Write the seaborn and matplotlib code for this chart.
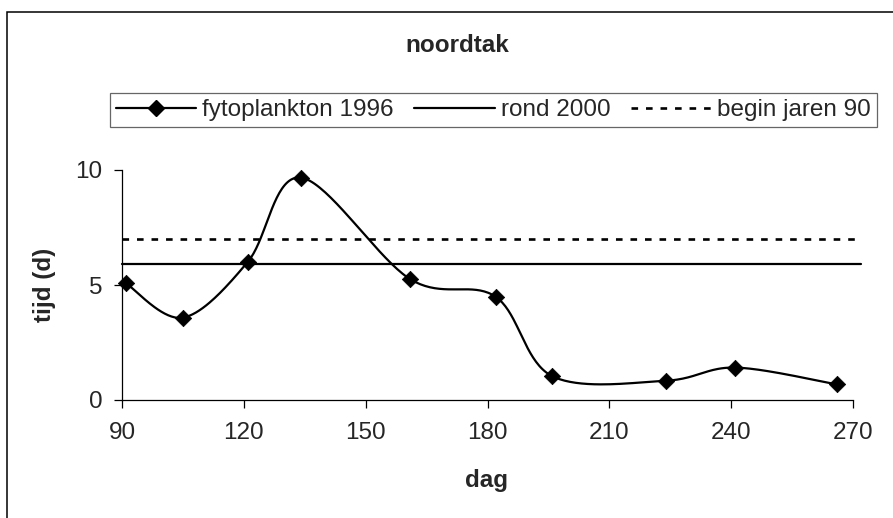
import numpy as np
import pandas as pd
import matplotlib
matplotlib.use("Agg")
import matplotlib.pyplot as plt
from matplotlib.lines import Line2D
from matplotlib.patches import Rectangle
import seaborn as sns

# ---- data ----
dag = [91, 105, 121, 134, 161, 182, 196, 224, 241, 266]
tijd = [5.07, 3.58, 6.01, 9.67, 5.25, 4.49, 1.03, 0.84, 1.41, 0.68]
ref_span = [90, 272]
rond_2000 = [5.91, 5.91]
begin_jaren_90 = [7.0, 7.0]
x_ticks = [90, 120, 150, 180, 210, 240, 270]
y_ticks = [0, 5, 10]
labels = ["fytoplankton 1996", "rond 2000", "begin jaren 90"]


def smooth(xs, ys, n=40):
    """Excel-like smoothed line (Catmull-Rom Bezier through the points)."""
    p = np.column_stack([xs, ys]).astype(float)
    ext = np.vstack([p[0], p, p[-1]])
    out = []
    t = np.linspace(0, 1, n)[:, None]
    for i in range(1, len(ext) - 2):
        p0, p1, p2, p3 = ext[i - 1], ext[i], ext[i + 1], ext[i + 2]
        b1 = p1 + (p2 - p0) / 6.0
        b2 = p2 - (p3 - p1) / 6.0
        seg = ((1 - t) ** 3) * p1 + 3 * ((1 - t) ** 2) * t * b1 + 3 * (1 - t) * t ** 2 * b2 + t ** 3 * p2
        out.append(seg if i == 1 else seg[1:])
    out = np.vstack(out)
    return out[:, 0], out[:, 1]


sns.set_style("white")
plt.rcParams["font.family"] = ["Liberation Sans", "DejaVu Sans"]
FS = 17.5

fig = plt.figure(figsize=(8.93, 5.18), dpi=100)
ax = fig.add_axes([122 / 893, 1 - 400 / 518, 731 / 893, 230 / 518])

sx, sy = smooth(dag, tijd)
curve = pd.DataFrame({"dag": sx, "tijd": sy})
sns.lineplot(data=curve, x="dag", y="tijd", ax=ax, color="black", lw=1.6,
             sort=False, estimator=None, clip_on=False)
sns.scatterplot(x=dag, y=tijd, ax=ax, marker="D", s=70, color="black",
                edgecolor="black", linewidth=0.5, zorder=5, clip_on=False)
sns.lineplot(x=ref_span, y=rond_2000, ax=ax, color="black", lw=1.6, clip_on=False)
sns.lineplot(x=ref_span, y=begin_jaren_90, ax=ax, color="black", lw=1.9,
             linestyle=(0, (2.5, 3.0)), clip_on=False)

ax.set_xlim(90, 270)
ax.set_ylim(0, 10)
ax.set_xticks(x_ticks)
ax.set_yticks(y_ticks)
ax.tick_params(axis="both", direction="out", length=6, width=0.9, color="black",
               labelsize=FS, bottom=True, left=True, pad=8)
ax.tick_params(axis="x", pad=10)
for s in ["top", "right"]:
    ax.spines[s].set_visible(False)
for s in ["left", "bottom"]:
    ax.spines[s].set_color("black")
    ax.spines[s].set_linewidth(0.9)
ax.set_xlabel("")
ax.set_ylabel("")

fig.text(487 / 893, 1 - 480 / 518, "dag", ha="center", va="center",
         fontsize=FS, fontweight="bold")
fig.text(45 / 893, 1 - 285 / 518, "tijd (d)", ha="center", va="center",
         rotation=90, fontsize=FS, fontweight="bold")
fig.text(457 / 893, 1 - 46 / 518, "noordtak", ha="center", va="center",
         fontsize=FS, fontweight="bold")

handles = [
    Line2D([], [], color="black", lw=1.6, marker="D", markersize=8.5),
    Line2D([], [], color="black", lw=1.6),
    Line2D([], [], color="black", lw=1.9, linestyle=(0, (2.5, 3.0))),
]
leg = fig.legend(handles, labels, loc="center", ncol=3,
                 bbox_to_anchor=(((111 + 876) / 2) / 893, 1 - 110 / 518),
                 frameon=True, fancybox=False, fontsize=FS, handlelength=3.3,
                 handletextpad=0.25, columnspacing=0.85, numpoints=1,
                 borderpad=0.25, borderaxespad=0)
leg.get_frame().set_edgecolor("#404040")
leg.get_frame().set_linewidth(0.9)

fig.patches.append(Rectangle((7 / 893, -0.2), 1.2, 1.2 - 12 / 518,
                             transform=fig.transFigure, fill=False,
                             edgecolor="black", lw=1.1))

fig.savefig("out.png", dpi=100)
